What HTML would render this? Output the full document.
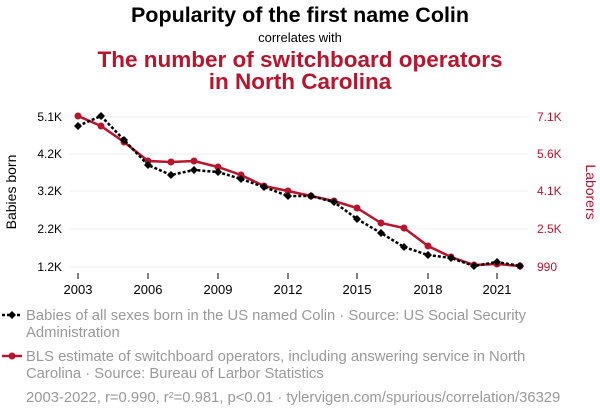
<!DOCTYPE html>
<html><head><meta charset="utf-8"><style>
body{margin:0;background:#fff;width:600px;height:414px;overflow:hidden;font-family:"Liberation Sans",sans-serif}
</style></head><body>
<svg width="600" height="414" xmlns="http://www.w3.org/2000/svg" font-family="Liberation Sans, sans-serif">
<text x="300" y="22" text-anchor="middle" font-size="21.5" font-weight="bold" fill="#000">Popularity of the first name Colin</text>
<text x="300" y="42" text-anchor="middle" font-size="13" fill="#000">correlates with</text>
<text x="300" y="67" text-anchor="middle" font-size="22.5" font-weight="bold" fill="#b8142d">The number of switchboard operators</text>
<text x="300" y="89" text-anchor="middle" font-size="22.5" font-weight="bold" fill="#b8142d">in North Carolina</text>
<g stroke="#eee" stroke-width="1">
<line x1="70" x2="528" y1="117" y2="117"/><line x1="70" x2="528" y1="154" y2="154"/><line x1="70" x2="528" y1="191" y2="191"/><line x1="70" x2="528" y1="229" y2="229"/><line x1="70" x2="528" y1="267" y2="267"/>
</g>
<g font-size="12" fill="#000" text-anchor="end">
<text x="62" y="121">5.1K</text><text x="62" y="158">4.2K</text><text x="62" y="195">3.2K</text><text x="62" y="233">2.2K</text><text x="62" y="271">1.2K</text>
</g>
<g font-size="12" fill="#b8142d" text-anchor="start">
<text x="537" y="121">7.1K</text><text x="537" y="158">5.6K</text><text x="537" y="195">4.1K</text><text x="537" y="233">2.5K</text><text x="537" y="271">990</text>
</g>
<text transform="translate(16,192) rotate(-90)" text-anchor="middle" font-size="14" fill="#000">Babies born</text>
<text transform="translate(586,192) rotate(90)" text-anchor="middle" font-size="14" fill="#b8142d">Laborers</text>
<g font-size="13" fill="#000" text-anchor="middle">
<text x="78" y="294">2003</text><text x="148" y="294">2006</text><text x="218" y="294">2009</text><text x="288" y="294">2012</text><text x="357" y="294">2015</text><text x="428" y="294">2018</text><text x="497" y="294">2021</text>
</g>
<g stroke="#000" stroke-width="1"><line x1="78" x2="78" y1="273" y2="279"/><line x1="148" x2="148" y1="273" y2="279"/><line x1="218" x2="218" y1="273" y2="279"/><line x1="288" x2="288" y1="273" y2="279"/><line x1="357" x2="357" y1="273" y2="279"/><line x1="428" x2="428" y1="273" y2="279"/><line x1="497" x2="497" y1="273" y2="279"/></g>
<polyline fill="none" stroke="#b8142d" stroke-width="2.5" points="78,116 101,126 124,142 148,161 171,162 194,161 218,167 241,175 264,186 288,191 311,196 334,201 357,208 381,223 404,228 428,246 451,257 474,265 497,264 520,266"/>
<g fill="#b8142d"><circle cx="78" cy="116" r="3.5"/><circle cx="101" cy="126" r="3.5"/><circle cx="124" cy="142" r="3.5"/><circle cx="148" cy="161" r="3.5"/><circle cx="171" cy="162" r="3.5"/><circle cx="194" cy="161" r="3.5"/><circle cx="218" cy="167" r="3.5"/><circle cx="241" cy="175" r="3.5"/><circle cx="264" cy="186" r="3.5"/><circle cx="288" cy="191" r="3.5"/><circle cx="311" cy="196" r="3.5"/><circle cx="334" cy="201" r="3.5"/><circle cx="357" cy="208" r="3.5"/><circle cx="381" cy="223" r="3.5"/><circle cx="404" cy="228" r="3.5"/><circle cx="428" cy="246" r="3.5"/><circle cx="451" cy="257" r="3.5"/><circle cx="474" cy="265" r="3.5"/><circle cx="497" cy="264" r="3.5"/><circle cx="520" cy="266" r="3.5"/></g>
<polyline fill="none" stroke="#000" stroke-width="2.5" stroke-dasharray="3,2" points="78,126 101,116 124,140 148,165 171,175 194,170 218,172 241,179 264,187 288,196 311,196 334,202 357,219 381,233 404,247 428,255 451,258 474,266 497,262 520,266"/>
<g fill="#000">
<path d="M78,122l4,4l-4,4l-4,-4z"/><path d="M101,112l4,4l-4,4l-4,-4z"/><path d="M124,136l4,4l-4,4l-4,-4z"/><path d="M148,161l4,4l-4,4l-4,-4z"/><path d="M171,171l4,4l-4,4l-4,-4z"/><path d="M194,166l4,4l-4,4l-4,-4z"/><path d="M218,168l4,4l-4,4l-4,-4z"/><path d="M241,175l4,4l-4,4l-4,-4z"/><path d="M264,183l4,4l-4,4l-4,-4z"/><path d="M288,192l4,4l-4,4l-4,-4z"/><path d="M311,192l4,4l-4,4l-4,-4z"/><path d="M334,198l4,4l-4,4l-4,-4z"/><path d="M357,215l4,4l-4,4l-4,-4z"/><path d="M381,229l4,4l-4,4l-4,-4z"/><path d="M404,243l4,4l-4,4l-4,-4z"/><path d="M428,251l4,4l-4,4l-4,-4z"/><path d="M451,254l4,4l-4,4l-4,-4z"/><path d="M474,262l4,4l-4,4l-4,-4z"/><path d="M497,258l4,4l-4,4l-4,-4z"/><path d="M520,262l4,4l-4,4l-4,-4z"/>
</g>
<line x1="2" x2="22" y1="315" y2="315" stroke="#000" stroke-width="2.5" stroke-dasharray="3,2"/>
<path d="M12,311l4,4l-4,4l-4,-4z" fill="#000"/>
<line x1="2" x2="22" y1="356" y2="356" stroke="#b8142d" stroke-width="2.5"/>
<circle cx="12" cy="356" r="3.5" fill="#b8142d"/>
<g font-size="14.8" fill="#999">
<text x="26" y="320">Babies of all sexes born in the US named Colin · Source: US Social Security</text>
<text x="26" y="337">Administration</text>
<text x="26" y="361">BLS estimate of switchboard operators, including answering service in North</text>
<text x="26" y="378">Carolina · Source: Bureau of Larbor Statistics</text>
<text x="26" y="402">2003-2022, r=0.990, r²=0.981, p&lt;0.01 · tylervigen.com/spurious/correlation/36329</text>
</g>
</svg>
</body></html>
